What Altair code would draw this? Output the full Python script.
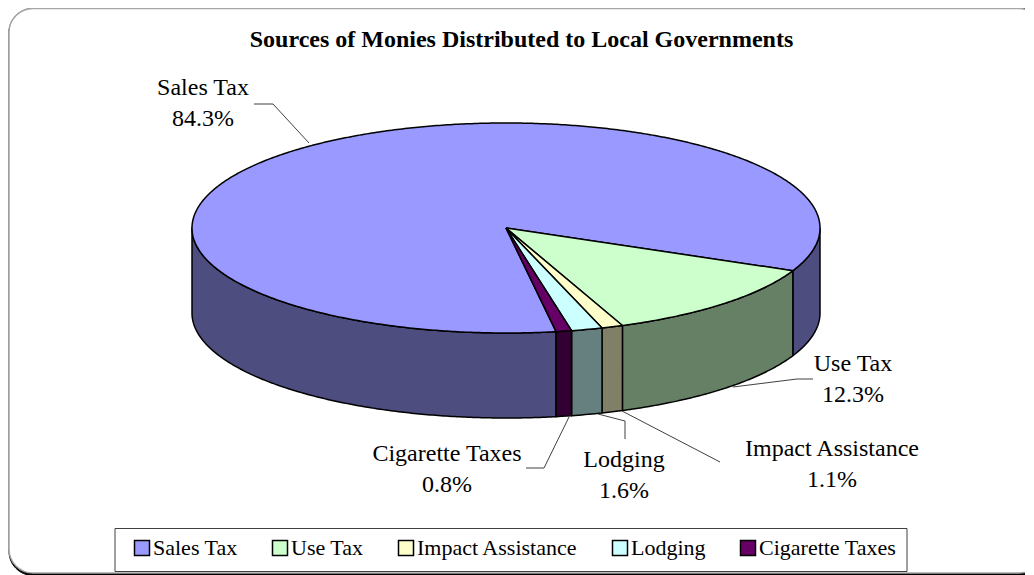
import numpy as np
import pandas as pd
import altair as alt

TITLE = "Sources of Monies Distributed to Local Governments"
CATEGORIES = ["Sales Tax", "Use Tax", "Impact Assistance", "Lodging", "Cigarette Taxes"]
SHARES = [84.3, 12.3, 1.1, 1.6, 0.8]
TOP_COLORS = ["#9999ff", "#ccffcc", "#ffffcc", "#ccffff", "#660066"]
WALL_COLORS = ["#4d4d80", "#668066", "#808066", "#668080", "#330033"]

# pie geometry (in the page-pixel units used for the x and y scale domains)
CX, CY, RX, RY, DEPTH, START = 506.0, 228.0, 314.0, 105.0, 85.0, 24.0

# label anchors and leader lines, keyed by category
LABEL_POS = {"Sales Tax": (203, 88), "Use Tax": (853, 364), "Impact Assistance": (832, 449),
             "Lodging": (624, 460), "Cigarette Taxes": (447, 454)}
LEADERS = {
    "Sales Tax": [(254, 104), (273, 104), (309, 143)],
    "Use Tax": [(813, 379), (797, 379), (733, 387)],
    "Impact Assistance": [(622, 411), (697, 450), (720, 462)],
    "Lodging": [(598, 414), (625, 421), (625, 439)],
    "Cigarette Taxes": [(569, 417), (544, 468), (526, 468)],
}


def px(a):
    r = np.radians(a)
    return CX + RX * np.cos(r), CY + RY * np.sin(r)


spans = {}
a = START
total = sum(SHARES)
for name in CATEGORIES[1:] + CATEGORIES[:1]:
    s = SHARES[CATEGORIES.index(name)]
    spans[name] = (a, a + s / total * 360)
    a += s / total * 360

top_rows, wall_rows = [], []
for k, name in enumerate(CATEGORIES):
    a0, a1 = spans[name]
    pts = [(CX, CY)]
    for t in np.linspace(a0, a1, max(4, int(a1 - a0) * 2)):
        pts.append(px(t))
    pts.append((CX, CY))
    for i, (x, y) in enumerate(pts):
        top_rows.append(dict(cat=name, i=i, x=x, y=y))
    # visible parts of the outer wall: screen angles 0..180 (and 360..540)
    for base in (0, 360):
        b0, b1 = max(a0, base), min(a1, base + 180)
        if b1 <= b0:
            continue
        ts = np.linspace(b0, b1, max(4, int(b1 - b0) * 2))
        up = [px(t) for t in ts]
        down = [(x, y + DEPTH) for x, y in up[::-1]]
        poly = up + down + up[:1]
        for i, (x, y) in enumerate(poly):
            wall_rows.append(dict(piece=f"{name}-{base}", fillc=WALL_COLORS[k], i=i, x=x, y=y))

top_df = pd.DataFrame(top_rows)
wall_df = pd.DataFrame(wall_rows)

label_df = pd.DataFrame([
    dict(x=LABEL_POS[n][0], y=LABEL_POS[n][1], t=f"{n}\n{s}%")
    for n, s in zip(CATEGORIES, SHARES)
])
leader_df = pd.DataFrame([
    dict(cat=n, i=i, x=p[0], y=p[1]) for n in CATEGORIES for i, p in enumerate(LEADERS[n])
])

X = alt.X("x:Q", scale=alt.Scale(domain=[8, 1025], nice=False, zero=False), axis=None)
Y = alt.Y("y:Q", scale=alt.Scale(domain=[575, 48], nice=False, zero=False), axis=None)

frame_shadow = alt.Chart(pd.DataFrame([dict(x=9, x2=1045, y=8.5, y2=575.5)])).mark_rect(
    fill="black", cornerRadius=24, stroke="black", strokeWidth=1
).encode(x=X, x2="x2:Q", y=Y, y2="y2:Q")
frame = alt.Chart(pd.DataFrame([dict(x=9, x2=1043, y=8.5, y2=573.0)])).mark_rect(
    fill="white", cornerRadius=24, stroke="#a6a6a6", strokeWidth=1.5
).encode(x=X, x2="x2:Q", y=Y, y2="y2:Q")

walls = alt.Chart(wall_df).mark_line(stroke="black", strokeWidth=1.5, strokeJoin="round").encode(
    x=X, y=Y, order="i:Q", detail="piece:N",
    fill=alt.Fill("fillc:N", scale=None),
)

legend_box = alt.Chart(pd.DataFrame([dict(x=115, x2=907, y=528.5, y2=571.5)])).mark_rect(
    fill="white", stroke="#404040", strokeWidth=1
).encode(x=X, x2="x2:Q", y=Y, y2="y2:Q")

tops = alt.Chart(top_df).mark_line(stroke="black", strokeWidth=1.5, strokeJoin="round").encode(
    x=X, y=Y, order="i:Q", detail="cat:N",
    fill=alt.Fill(
        "cat:N",
        scale=alt.Scale(domain=CATEGORIES, range=TOP_COLORS),
        sort=CATEGORIES,
        legend=alt.Legend(
            title=None, orient="none", legendX=123, legendY=489, direction="horizontal",
            columns=5, columnPadding=31, symbolType="square", symbolSize=225,
            symbolStrokeColor="black", symbolStrokeWidth=1.5, symbolOpacity=1,
            labelFont="Liberation Serif", labelFontSize=22, labelColor="black", labelOffset=0,
            labelLimit=300, zindex=2, symbolFillColor="transparent",
        ),
    ),
)

leaders = alt.Chart(leader_df).mark_line(stroke="#404040", strokeWidth=1).encode(
    x=X, y=Y, order="i:Q", detail="cat:N"
)

labels = alt.Chart(label_df).mark_text(
    font="Liberation Serif", fontSize=24, color="black", lineBreak="\n", lineHeight=31,
    align="center", baseline="middle",
).encode(x=X, y=Y, text="t:N")

chart = alt.layer(frame_shadow, frame, walls, legend_box, tops, leaders, labels).resolve_scale(
    fill="independent"
).properties(
    width=1017, height=527,
    padding={"left": 0, "right": 0, "top": 40, "bottom": 0},
    autosize=alt.AutoSizeParams(type="none"),
    title=alt.TitleParams(TITLE, font="Liberation Serif", fontSize=24, fontWeight="bold",
                          color="black", anchor="middle", frame="group", offset=-44, dx=5),
).configure_view(stroke=None)

chart.save("out.html", embed_options={"renderer": "svg", "actions": False})
